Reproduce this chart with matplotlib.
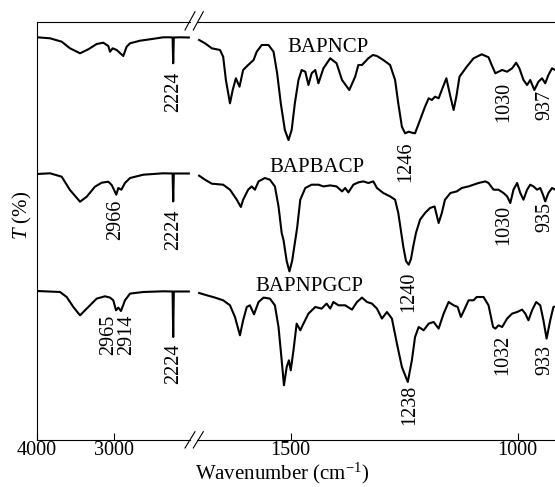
import matplotlib
matplotlib.use("Agg")
import matplotlib.pyplot as plt
from matplotlib.lines import Line2D

# ---- spectra: wavenumber (cm-1) and T (baseline ~100) ----
bapncp_wn = [4000, 3830, 3678, 3570, 3439, 3331, 3222, 3136, 3070, 3048, 3013, 2961, 2875,
             2831, 2787, 2657, 2527, 2353, 2266, 2232, 2224, 2216, 2136, 2020,
             1702, 1689, 1674, 1656, 1649, 1643, 1634, 1628, 1621, 1613, 1605, 1594, 1582,
             1575, 1564, 1549, 1538, 1530, 1522, 1513, 1505, 1498, 1491, 1483, 1476, 1468,
             1461, 1454, 1446, 1439, 1428, 1413, 1399, 1387, 1371, 1358, 1351, 1343, 1336,
             1329, 1319, 1310, 1296, 1281, 1270, 1263, 1255, 1248, 1240, 1233, 1226, 1215,
             1204, 1196, 1189, 1182, 1174, 1167, 1157, 1148, 1141, 1135, 1128, 1112, 1097,
             1079, 1064, 1057, 1049, 1042, 1034, 1023, 1012, 1003, 996, 987, 979, 972, 963,
             954, 946, 939, 932, 924, 917, 900]
bapncp_t = [99.7, 98.7, 95.3, 88.7, 83.7, 87.7, 93, 94.3, 91, 85.3, 88.7, 87, 81,
            90.3, 93.7, 96.3, 97.7, 99.7, 99.7, 99.5, 73.7, 99.5, 99.7, 99.5,
            97, 93.7, 88.7, 87, 80.3, 57, 33.7, 47, 58.7, 50.3, 67, 72, 77,
            85.3, 92, 92, 85.3, 63.7, 33.7, 7, -3, 7, 33.7, 57, 67, 65.3,
            52, 63.7, 67, 53.7, 68.7, 78.7, 73.7, 57, 47, 60.3, 72, 72, 75.3,
            78.7, 82, 81, 77, 72, 57, 33.7, 10.3, 3.7, 5.3, 4.3, 3.7, 17,
            30.3, 38.7, 37, 40.3, 38.7, 47, 58.7, 40.3, 27, 40.3, 60.3, 70.3, 78.7,
            82.7, 79.7, 72, 63.7, 65.3, 67, 65.3, 68.7, 74.3, 68.7, 57, 52, 57, 47,
            55.3, 58.7, 53.7, 62, 68.7, 67, 66]

bapbacp_wn = [4000, 3830, 3678, 3570, 3439, 3352, 3244, 3157, 3070, 3026, 2966, 2940, 2900,
              2853, 2787, 2614, 2353, 2232, 2224, 2216, 2136, 2020,
              1702, 1689, 1674, 1649, 1634, 1619, 1610, 1605, 1594, 1586, 1579, 1571, 1557,
              1546, 1535, 1527, 1520, 1516, 1509, 1503, 1497, 1490, 1486, 1479, 1468, 1454,
              1439, 1428, 1413, 1399, 1387, 1380, 1373, 1362, 1351, 1340, 1329, 1318, 1310,
              1296, 1281, 1270, 1263, 1258, 1252, 1246, 1240, 1235, 1230, 1224, 1215, 1204,
              1193, 1183, 1174, 1167, 1160, 1148, 1134, 1123, 1108, 1097, 1086, 1071, 1064,
              1053, 1042, 1031, 1023, 1016, 1009, 1001, 994, 987, 979, 972, 965, 957, 950,
              944, 939, 932, 924, 917, 900]
bapbacp_t = [99, 99.7, 96.3, 83, 71.3, 76.3, 86.3, 90.3, 91.3, 88, 78.3, 85, 83.3,
             90, 95, 98.3, 99.7, 99.5, 71.6, 99.5, 99.5, 99.5,
             97.3, 93.3, 89.3, 88.3, 83.3, 73.3, 66, 73.3, 83.3, 86.6, 83.3, 91.6, 95,
             93.3, 86.6, 66.6, 40, 33, 12, 1.6, 12, 33, 45, 73.3, 85, 88.3,
             88.3, 86.6, 87.6, 86.6, 81.6, 85, 80.6, 88.3, 90.6, 91.6, 90, 91.6, 85,
             80, 76.6, 73.3, 60, 45, 26.6, 12, 8.3, 14, 26.6, 40, 53.3, 60,
             65, 66.6, 50, 60, 73.3, 80, 81.6, 85, 86.6, 88.3, 90, 91.6, 90,
             83.3, 83.3, 80, 76.6, 70, 83.3, 90, 80, 73.3, 83.3, 88.3, 86.6, 83.3, 85,
             78.3, 71.6, 80, 85, 83.3, 84]

bapnpgcp_wn = [4000, 3700, 3613, 3526, 3439, 3331, 3222, 3113, 3048, 3005, 2970, 2940, 2905,
               2853, 2787, 2614, 2353, 2232, 2224, 2216, 2136, 2020,
               1702, 1685, 1667, 1649, 1634, 1623, 1612, 1605, 1597, 1590, 1581, 1571, 1560,
               1546, 1535, 1527, 1520, 1515, 1509, 1504, 1500, 1494, 1487, 1479, 1472, 1461,
               1446, 1432, 1421, 1413, 1406, 1395, 1380, 1365, 1354, 1343, 1332, 1321, 1310,
               1299, 1288, 1277, 1266, 1255, 1242, 1233, 1226, 1218, 1207, 1196, 1185, 1174,
               1163, 1152, 1141, 1132, 1125, 1118, 1108, 1097, 1090, 1075, 1064, 1054, 1049,
               1042, 1034, 1023, 1012, 1001, 990, 983, 976, 968, 959, 950, 943, 936, 928,
               921, 900]
bapnpgcp_t = [100, 99, 94, 84, 75.7, 84, 92.4, 94.7, 93.4, 90.7, 80.7, 83.4, 80,
              90.7, 97.4, 99, 99.7, 99.5, 54, 99.5, 99.5, 99.5,
              98, 95.7, 93.4, 90.7, 85.7, 74, 55.7, 70.7, 84, 85.7, 76.7, 89, 93.4,
              92.4, 85.7, 64, 30.7, 5.7, 24, 30.7, 20.7, 40.7, 67.4, 60.7, 67.4, 77.4,
              84, 82.4, 87.4, 82.4, 89, 85.7, 85.7, 81.4, 89, 93.4, 89, 87.4, 82.4,
              72.4, 79, 72.4, 47.4, 24, 9, 30.7, 54, 64, 60.7, 67.4, 69, 62.4,
              77.4, 89, 85.7, 84, 74, 80.7, 90.7, 90.7, 94, 94, 85.7, 64, 62.4,
              65.7, 64, 72.4, 77.4, 79, 81.4, 77.4, 70.7, 80.7, 89, 85.7, 70.7, 52.4, 70.7,
              84, 86]

names = ["BAPNCP", "BAPBACP", "BAPNPGCP"]

# peak labels: (text, wavenumber)
peaks_top = [("2224", 2224), ("1246", 1246), ("1030", 1030), ("937", 937)]
peaks_mid = [("2966", 2966), ("2224", 2224), ("1240", 1240), ("1030", 1030), ("935", 935)]
peaks_bot = [("2965", 2965), ("2914", 2914), ("2224", 2224), ("1238", 1238),
             ("1032", 1032), ("933", 933)]

W, H = 555, 487


def fx(px):
    return px / W


def fy(py):
    return 1 - py / H


def split(wn, t):
    left = [(w, v) for w, v in zip(wn, t) if w > 1900]
    right = [(w, v) for w, v in zip(wn, t) if w < 1900]
    return list(zip(*left)), list(zip(*right))


def main():
    plt.rcParams['font.family'] = 'Liberation Serif'
    plt.rcParams['mathtext.fontset'] = 'custom'
    plt.rcParams['mathtext.rm'] = 'Liberation Serif'
    plt.rcParams['mathtext.it'] = 'Liberation Serif:italic'

    fig = plt.figure(figsize=(W / 100, H / 100), dpi=100)
    # broken x axis: 4000-2005 on the left, 1707-880 on the right
    ax1 = fig.add_axes([fx(37), fy(440), fx(190 - 37), 418 / H])
    ax2 = fig.add_axes([fx(197), fy(440), fx(572 - 197), 418 / H])
    ax1.set_xlim(4000, 2005)
    ax2.set_xlim(1706.7, 880)

    offsets = [303, 167, 49]
    spectra = [(bapncp_wn, bapncp_t), (bapbacp_wn, bapbacp_t), (bapnpgcp_wn, bapnpgcp_t)]
    for (wn, t), off in zip(spectra, offsets):
        (lw, lt), (rw, rt) = split(wn, t)
        ax1.plot(lw, [v + off for v in lt], color='black', lw=1.5, solid_joinstyle='round')
        ax2.plot(rw, [v + off for v in rt], color='black', lw=1.5, solid_joinstyle='round')

    for ax in (ax1, ax2):
        ax.set_ylim(0, 418)
        ax.set_yticks([])
        ax.spines['right'].set_visible(False)
        for s in ax.spines.values():
            s.set_linewidth(0.8)
        ax.tick_params(axis='x', direction='in', length=5, width=0.8, labelsize=14.5, pad=0.5)
    ax2.spines['left'].set_visible(False)
    ax1.set_xticks([4000, 3000])
    ax2.set_xticks([1500, 1000])

    # spectrum names
    name_pos = [(1508, 388.5), (1548, 268.5), (1579, 149)]
    for n, (x, y) in zip(names, name_pos):
        ax2.text(x, y, n, ha='left', va='baseline', fontsize=15)

    # peak labels (x nudged where the original moves them apart)
    pos_top = [(ax1, 2224, 368), (ax2, 1246, 298), (ax2, 1030, 358), (ax2, 940, 350)]
    pos_mid = [(ax1, 2980, 240), (ax1, 2224, 230), (ax2, 1240, 168), (ax2, 1031, 235),
               (ax2, 940, 238)]
    pos_bot = [(ax1, 3060, 125), (ax1, 2835, 125), (ax1, 2224, 97), (ax2, 1238, 55),
               (ax2, 1032, 105), (ax2, 940, 95)]
    for peaks, pos in ((peaks_top, pos_top), (peaks_mid, pos_mid), (peaks_bot, pos_bot)):
        for (txt, _), (ax, x, y) in zip(peaks, pos):
            ax.text(x, y, txt, rotation=90, ha='center', va='top', fontsize=14.5)

    # break marks
    for y0, y1 in ((30, 11.7), (448, 431.7)):
        for x0 in (185, 193.3):
            fig.add_artist(Line2D([fx(x0), fx(x0 + 10)], [fy(y0), fy(y1)],
                                  transform=fig.transFigure, color='black', lw=0.8))

    fig.text(fx(22), fy(215), r'$T$ (%)', rotation=90, ha='center', va='center', fontsize=15)
    fig.text(fx(282.5), fy(486.5), r'Wavenumber (cm$^{-1}$)', ha='center', va='bottom',
             fontsize=15)

    fig.savefig('out.png', dpi=100)


if __name__ == "__main__":
    main()
